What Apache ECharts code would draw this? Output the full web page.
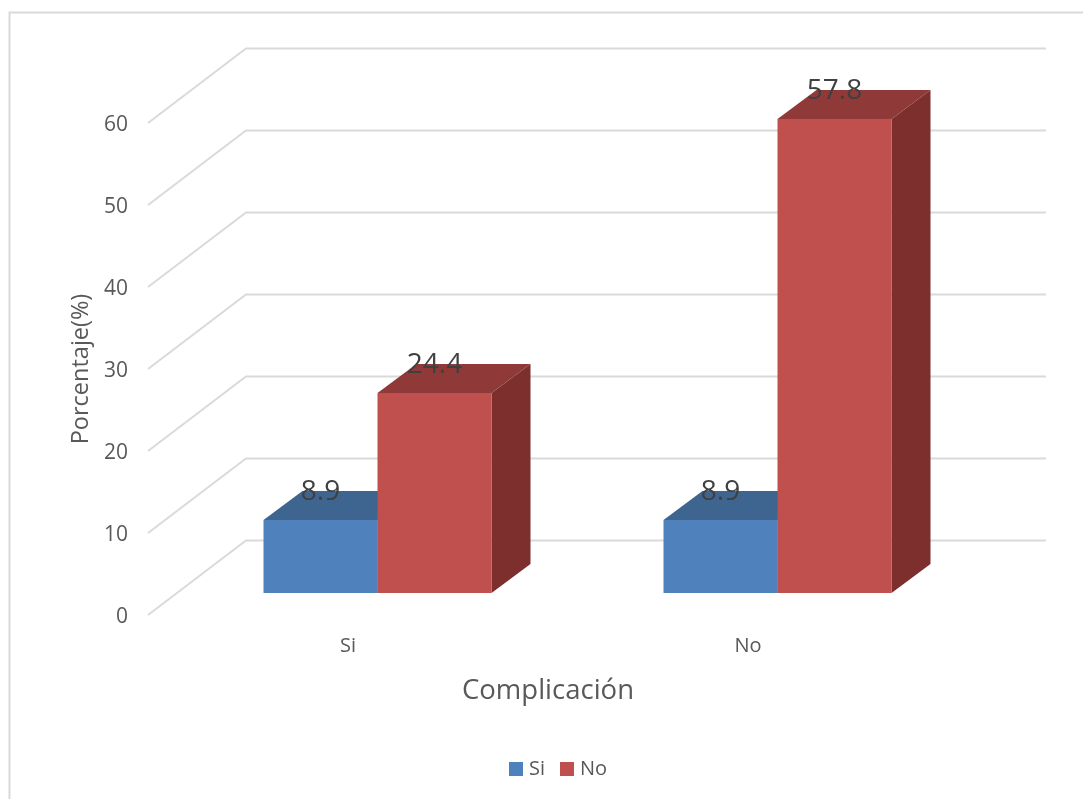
<!DOCTYPE html>
<html>
<head>
<meta charset="utf-8">
<style>html,body{margin:0;padding:0;background:#fff}#chart{width:1083px;height:799px}</style>
<script src="https://cdn.jsdelivr.net/npm/echarts@6/dist/echarts.min.js"></script>
</head>
<body>
<div id="chart"></div>
<script>
// Data
const categories = ['Si', 'No'];
const serieSi = [8.9, 8.9];
const serieNo = [24.4, 57.8];
const valueTicks = [0, 10, 20, 30, 40, 50, 60];

// Oblique projection of the box: depth of the floor and where bars sit in it
const FONT = '"Open Sans", sans-serif';
const TEXT = '#595959';
const WALL = [98, -74.5];
const BAR_FRONT = [29.5, -22];
const BAR_DEPTH = [39, -29];
const BAR_SHARE = 0.285;

// Back wall and side wall lines for each tick value
function renderWall(params, api) {
  const v = api.value(0);
  const y = api.coord([0, v])[1];
  const x0 = params.coordSys.x;
  const w = params.coordSys.width;
  return {
    type: 'polyline',
    shape: { points: [[x0, y], [x0 + WALL[0], y + WALL[1]], [x0 + WALL[0] + w, y + WALL[1]]] },
    style: { fill: null, stroke: '#dadada', lineWidth: 2 }
  };
}

// One box: front, top and right faces, plus its value label
function boxRenderer(slot, front, top, side) {
  return function (params, api) {
    const cat = api.value(0);
    const val = api.value(1);
    const base = api.coord([cat, 0]);
    const head = api.coord([cat, val]);
    const bw = api.size([1, 0])[0] * BAR_SHARE;
    const x0 = base[0] + BAR_FRONT[0] + slot * bw;
    const x1 = x0 + bw;
    const yb = base[1] + BAR_FRONT[1];
    const yt = head[1] + BAR_FRONT[1];
    const dx = BAR_DEPTH[0];
    const dy = BAR_DEPTH[1];
    return {
      type: 'group',
      children: [
        { type: 'polygon', shape: { points: [[x1, yb], [x1 + dx, yb + dy], [x1 + dx, yt + dy], [x1, yt]] }, style: { fill: side } },
        { type: 'polygon', shape: { points: [[x0, yt], [x0 + dx, yt + dy], [x1 + dx, yt + dy], [x1, yt]] }, style: { fill: top } },
        { type: 'rect', shape: { x: x0, y: yt, width: bw, height: yb - yt }, style: { fill: front } },
        {
          type: 'text', z2: 10,
          style: {
            x: (x0 + x1) / 2, y: yt + dy + 1, text: String(val),
            fill: '#404040', font: '28px ' + FONT, align: 'center', verticalAlign: 'middle'
          }
        }
      ]
    };
  };
}

function toRows(values) {
  return values.map((v, i) => [i, v]);
}

const chart = echarts.init(document.getElementById('chart'), null, { renderer: 'canvas' });
chart.setOption({
  animation: false,
  backgroundColor: '#ffffff',
  textStyle: { fontFamily: FONT },
  grid: { left: 148, top: 123, width: 800, height: 492 },
  graphic: [{
    type: 'polyline',
    silent: true,
    shape: { points: [[9.5, 799], [9.5, 12.5], [1083, 12.5]] },
    style: { fill: null, stroke: '#d9d9d9', lineWidth: 2 }
  }],
  legend: {
    data: categories,
    left: 504,
    top: 754,
    icon: 'rect',
    itemWidth: 14,
    itemHeight: 14,
    itemGap: 15,
    selectedMode: false,
    textStyle: { color: TEXT, fontSize: 20, fontFamily: FONT, padding: [0, 0, 0, 1] }
  },
  xAxis: {
    type: 'category',
    data: categories,
    axisLine: { show: false },
    axisTick: { show: false },
    axisLabel: { color: TEXT, fontSize: 20, fontFamily: FONT, margin: 21 },
    name: 'Complicación',
    nameLocation: 'middle',
    nameGap: 62,
    nameTextStyle: { color: TEXT, fontSize: 27.5, fontFamily: FONT }
  },
  yAxis: {
    type: 'value',
    min: 0,
    max: 60,
    interval: 10,
    axisLine: { show: false },
    axisTick: { show: false },
    splitLine: { show: false },
    axisLabel: {
      margin: 20,
      formatter: '{tick|{value}}',
      rich: { tick: { color: TEXT, fontSize: 21, fontFamily: FONT, padding: [5, 0, 0, 0] } }
    },
    name: 'Porcentaje(%)',
    nameLocation: 'middle',
    nameGap: 55,
    nameTextStyle: { color: TEXT, fontSize: 23.5, fontFamily: FONT }
  },
  series: [
    {
      type: 'custom',
      silent: true,
      z: 1,
      renderItem: renderWall,
      encode: { y: 0 },
      data: valueTicks.map(v => [v])
    },
    {
      name: 'Si',
      type: 'custom',
      z: 2,
      itemStyle: { color: '#4f81bd' },
      renderItem: boxRenderer(-1, '#4f81bd', '#3e6490', '#345578'),
      encode: { x: 0, y: 1 },
      data: toRows(serieSi)
    },
    {
      name: 'No',
      type: 'custom',
      z: 3,
      itemStyle: { color: '#c0504d' },
      renderItem: boxRenderer(0, '#c0504d', '#8f3a38', '#7c2f2d'),
      encode: { x: 0, y: 1 },
      data: toRows(serieNo)
    }
  ]
});
</script>
</body>
</html>
